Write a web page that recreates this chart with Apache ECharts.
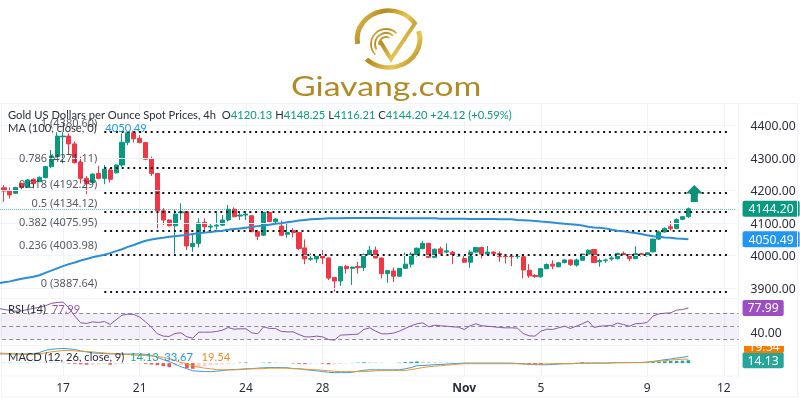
<!DOCTYPE html>
<html>
<head>
<meta charset="utf-8">
<style>html,body{margin:0;padding:0;background:#fff}#c{width:800px;height:400px}</style>
<script src="https://cdn.jsdelivr.net/npm/echarts@6/dist/echarts.min.js"></script>
</head>
<body>
<div id="c"></div>
<script>
const tickLabels = ['17','21','24','28','Nov','5','9','12'];
const tickSlots = [11,24,42,55,79,92,110,123];
const slotCount = 126;

const opens = [null,
4209,4200,4192,4222,4210,4235,4228,4240,4274,4305,
4366,4368,4344,4288,4238,4225,4253,4238,4264,4255,
4279,4349,4378,4361,4348,4299,4253,4138,4110,4092,
4132,4135,4028,4038,4103,4088,4091,4094,4110,4143,
4122,4125,4123,4074,4063,4133,4105,4091,4066,4077,
4071,4024,3989,3990,4000,3993,3933,3922,3967,3961,
3967,3964,4003,4017,3993,3945,3953,3937,3961,3974,
4002,4022,4038,3995,4021,4011,4011,3999,3991,3980,
4011,4025,4005,4011,4007,4000,3999,3997,3997,3955,
3939,3935,3960,3974,3966,3979,3987,3971,3986,4005,
4019,3981,3985,3990,3991,4007,4003,3991,4006,4000,
4012,4051,4073,4089,4084,4112,4120.13];
const closes = [null,
4199,4187,4210,4210,4233,4222,4241,4274,4307,4368,
4368,4344,4286,4238,4222,4251,4238,4266,4235,4279,
4349,4378,4360,4348,4297,4253,4138,4110,4092,4128,
4135,4030,4038,4101,4089,4091,4094,4110,4143,4120,
4125,4128,4074,4060,4133,4105,4113,4063,4071,4071,
4022,3990,3992,4000,3993,3931,3922,3966,3960,3965,
3963,4003,4017,3993,3945,3954,3937,3961,3974,4005,
4023,4038,3995,4020,4007,4015,4001,4002,3980,4011,
4025,4005,4011,4006,3997,3997,3997,4000,3956,3938,
3936,3960,3973,3968,3978,3987,3973,3987,4005,4017,
3979,3985,3987,3993,4007,4003,3991,4006,4003,4009,
4051,4073,4084,4083,4111,4120,4144.20];
const lows = [null,
4166,4176,4190,4205,4208,4207,4226,4238,4269,4302,
4284,4310,4284,4222,4189,4222,4235,4220,4225,4253,
4274,4340,4348,4346,4294,4245,4084,4094,4090,4007,
4110,4017,4012,4025,4074,4069,4081,4091,4105,4118,
4110,4110,4072,4048,4060,4103,4099,4061,4055,4056,
4017,3974,3984,3978,3974,3925,3889,3907,3945,3910,
3945,3953,4002,3992,3930,3917,3919,3935,3960,3964,
3997,4019,3993,3993,4004,4007,3974,3997,3978,3963,
4009,3992,4002,4001,3981,3976,3968,3990,3930,3932,
3932,3932,3958,3958,3964,3976,3968,3966,3984,4004,
3978,3966,3978,3984,3988,3999,3983,3989,3997,3997,
4010,4048,4071,4077,4082,4109,4116.21];
const highs = [null,
4217,4210,4212,4225,4236,4238,4244,4276,4325,4380,
4380,4376,4351,4305,4245,4253,4276,4279,4269,4281,
4376,4381,4380,4371,4350,4305,4255,4146,4112,4142,
4161,4136,4069,4115,4115,4099,4137,4125,4156,4149,
4135,4137,4125,4079,4135,4135,4115,4108,4097,4084,
4072,4050,4007,4002,4017,3994,3934,3968,3972,3966,
3981,4007,4030,4028,3994,3956,3964,3962,4010,4011,
4025,4046,4039,4022,4028,4038,4015,4007,3999,4017,
4026,4028,4030,4014,4014,4001,4000,4002,3998,3974,
3943,3962,3976,3986,3981,3989,3989,3991,4007,4019,
4020,3991,3991,4002,4009,4013,4005,4029,4009,4011,
4053,4077,4087,4107,4115,4122,4148.25];
const ma100 = [
3915,3918,3921,3925,3929,3932,3935,3940,3947,3954,
3961,3968,3974,3979,3985,3990,3995,3999,4003,4008,
4014,4020,4027,4033,4040,4046,4050,4053,4055,4058,
4060,4062,4064,4067,4069,4071,4073,4075,4077,4080,
4082,4084,4086,4088,4091,4093,4095,4098,4100,4103,
4105,4108,4110,4112,4113,4114,4115,4115,4115,4116,
4116,4116,4116,4116,4116,4116,4116,4115,4115,4115,
4115,4115,4115,4115,4115,4114,4114,4114,4114,4114,
4113,4113,4113,4113,4113,4112,4112,4112,4110,4109,
4108,4107,4105,4104,4102,4100,4098,4097,4095,4093,
4089,4087,4086,4084,4080,4077,4075,4072,4070,4067,
4063,4060,4058,4056,4055,4053,4052,4050.49];
const rsi14 = [
77.3,75.7,74.2,73.1,73.7,75.7,77.3,79.3,81.4,85,
86.5,87,78.3,65.5,55.2,54.2,56.7,55.7,57.2,52.6,
59.8,67,68.5,68,63.9,56.7,48.5,38.3,34.7,34.2,
38.8,39.8,33.6,31.6,40.8,40.8,40.8,41.9,43.9,48,
45.4,46,46,39.8,38.3,49,46.5,46.5,41.9,41.3,
41.3,37.2,33.6,33.6,34.7,33.6,29.5,28.5,36.2,36.7,
37.2,37.8,45,47.5,42.4,38.3,38.3,39.3,42.4,46.5,
50.6,53.7,55.2,49,51.6,50.6,50,49,48.5,45,
50.6,53.7,50.6,50,49,48,47.5,47.5,47,38.8,
35.2,34.7,42.4,45.4,45,47.5,50,46.5,50,53.7,
57.8,48,50,50.6,51.1,54.7,52.6,50,53.7,54.2,
55.7,65.5,69,70,70.6,74.7,75.7,77.99];
const macdLine = [
45,45,45,45,45,45,45,52,62,68,
70,72,70,67,60,55,50,48,47,45,
45,45,45,45,45,43,38,28,17,7,
-5,-18,-28,-38,-40,-42,-42,-40,-37,-33,
-32,-30,-28,-27,-25,-23,-22,-22,-22,-23,
-27,-28,-32,-35,-38,-42,-45,-47,-47,-47,
-45,-40,-35,-33,-33,-33,-33,-33,-33,-28,
-22,-13,-12,-10,-8,-7,-5,-3,-2,0,
0,0,0,0,0,0,0,0,-2,-3,
-7,-8,-8,-8,-7,-5,-3,-3,-2,0,
0,0,0,0,2,2,2,3,3,3,
5,8,12,17,20,25,28,33.67];
const signalLine = [
50,48,47,45,43,42,42,45,50,55,
58,62,62,60,58,57,55,52,50,47,
45,43,42,40,38,37,35,33,28,22,
13,3,-3,-13,-20,-25,-28,-32,-33,-33,
-33,-32,-30,-28,-28,-27,-25,-25,-25,-25,
-27,-28,-30,-32,-33,-35,-38,-40,-42,-42,
-42,-42,-42,-40,-38,-37,-37,-37,-35,-37,
-32,-27,-22,-18,-15,-13,-10,-8,-5,-3,
-3,-3,-3,-3,-3,-3,-3,-3,-3,-5,
-5,-5,-5,-5,-3,-3,-3,-3,-2,-2,
-2,0,0,0,0,2,2,2,2,3,
3,7,10,12,15,17,19,19.54];
const macdHist = [
3,3,3,3,3,3,3,3,3,3,
3,3,-3,-4,-6,-8,-8,-8,-4,-8,
-5,-4,-3,-3,-3,-4,-7,-10,-15,-20,
-14,-10,-25,-28,-20,-15,-12,-8,-6,-4,
-2,2,3,1,1,2,3,3,2,1,
-2,-4,-5,-4,-2,-3,-6,-6,-4,-2,
1,2,4,4,3,2,1,1,2,5,
6,8,7,6,5,4,3,3,2,2,
1,1,1,1,1,1,1,-1,-2,-4,
-6,-7,-8,-6,-5,-4,-3,-2,2,4,
3,2,1,1,1,1,1,1,1,1,
3,5,7,9,10,11,12,14.13];
const fibRatios = ['1','0.786','0.618','0.5','0.382','0.236','0'];
const fibLevels = [4380.60,4271.11,4192.29,4134.12,4075.95,4003.98,3887.64];
const priceTicks = [3900,4000,4100,4200,4300,4400];
const lastPrice = 4144.20, lastMA = 4050.49, lastRSI = 77.99, lastMACD = 33.67, lastSignal = 19.54, lastHist = 14.13;

const FONT = 'Noto Sans', LEG = 'Lato';
const INK = '#2a2e39';
const UP = '#089981', DOWN = '#f23645', FAINT = '#f0f3fa';
const GOLD = {type:'linear',x:0,y:0,x2:1,y2:1,colorStops:[
  {offset:0,color:'#f0d66f'},{offset:.35,color:'#b58a1e'},{offset:.65,color:'#e8c653'},{offset:1,color:'#9a7312'}]};

const categories = Array.from({length:slotCount},(_,i)=>{const k=tickSlots.indexOf(i);return k<0?'':tickLabels[k];});
const candles = opens.map((o,i)=>o===null?['-','-','-','-']:[o,closes[i],lows[i],highs[i]]);
const histData = macdHist.map((v,i)=>{
  const prev = i?macdHist[i-1]:v;
  const color = v<0?(v<prev?'#ef5350':'#ffcdd2'):(v>prev?'#26a69a':'#b2dfdb');
  return {value:v,itemStyle:{color}};
});
const isTick = (i,v)=>v!=='';

const gridBase = {left:-4.85,width:743.4,outerBoundsMode:'none',containLabel:false,show:true,borderColor:FAINT,borderWidth:1,backgroundColor:'transparent'};
function xAx(gridIndex,showLabel){
  return {type:'category',gridIndex,data:categories,boundaryGap:true,
    axisLine:{show:false},axisTick:{show:false},
    splitLine:{show:true,alignWithLabel:true,interval:isTick,lineStyle:{color:FAINT,width:1}},
    axisLabel:{show:showLabel,interval:isTick,margin:7,color:INK,fontFamily:FONT,fontSize:12,
      formatter:v=>v==='Nov'?'{b|Nov}':v,rich:{b:{fontWeight:'bold',color:INK,fontFamily:FONT,fontSize:12}}}};
}
const tag = (bg,pad)=>({backgroundColor:bg,color:'#fff',padding:[3,pad,1,pad],borderRadius:2,fontFamily:FONT,fontSize:12.2});
function yAx(gridIndex,min,max,values,fmt){
  return {type:'value',gridIndex,position:'right',min,max,scale:true,
    axisLine:{show:false},axisTick:{show:false},splitLine:{show:false},
    axisLabel:{customValues:values,margin:4,align:'left',fontFamily:FONT,fontSize:12.2,color:INK,formatter:fmt,
      rich:{n:{color:INK,fontFamily:FONT,fontSize:12.2,padding:[2,0,0,8]},
            g:tag(UP,6),b:tag('#2196f3',6),p:tag('#9c4fc4',5),t:tag('#26a69a',5)}}};
}
const fibLines = fibLevels.map(v=>[
  {xAxis:18,yAxis:v,lineStyle:{color:'#111',type:[2,3.8],width:2,cap:'butt'}},
  {xAxis:124,yAxis:v}]);
const hundredLines = priceTicks.map(v=>[
  {xAxis:0,yAxis:v,lineStyle:{color:FAINT,type:'solid',width:1}},{xAxis:125,yAxis:v}]);
const lastLine = [[{xAxis:0,yAxis:lastPrice,lineStyle:{color:UP,type:'dotted',width:1,opacity:.7}},{xAxis:125,yAxis:lastPrice}]];

function legend(text,top,rich){
  return {text,left:8,top,padding:0,itemGap:0,z:20,textStyle:{fontFamily:LEG,fontSize:11.2,fontWeight:'normal',color:INK,rich}};
}
const leg = c=>({color:c,fontFamily:LEG,fontSize:11.2});
const option = {
  animation:false,backgroundColor:'#fff',
  title:[
    legend('Gold US Dollars per Ounce Spot Prices, 4h  O{v|4120.13} H{v|4148.25} L{v|4116.21} C{v|4144.20} {v|+24.12} {v|(+0.59%)}',110,{v:leg(UP)}),
    legend('MA (100, close, 0)   {m|4050.49}',123,{m:leg('#2196f3')}),
    legend('RSI (14)  {r|77.99}',304,{r:leg('#9c4fc4')}),
    legend('MACD (12, 26, close, 9)  {a|14.13}  {b|33.67}   {c|19.54}',352,{
      a:leg('#26a69a'),b:leg('#2196f3'),c:leg('#f08a24')})
  ],
  grid:[
    Object.assign({top:103.5,height:195},gridBase),
    Object.assign({top:298.5,height:47},gridBase),
    Object.assign({top:345.5,height:30.5},gridBase)
  ],
  xAxis:[xAx(0,false),xAx(1,false),xAx(2,true)],
  yAxis:[
    yAx(0,3868.3,4468.3,priceTicks.concat([lastPrice,lastMA]),
      v=>v===lastPrice?'{g|4144.20}':v===lastMA?'{b|4050.49}':'{n|'+v.toFixed(2)+'}'),
    yAx(1,20.3,92.6,[lastRSI,40],v=>v===lastRSI?'{p|77.99}':'{n|40.00}'),
    yAx(2,-63.5,86.5,[lastHist],()=>'{t|14.13}')
  ],
  series:[
    {type:'candlestick',name:'XAUUSD',xAxisIndex:0,yAxisIndex:0,data:candles,barWidth:4.6,z:4,
      itemStyle:{color:UP,color0:DOWN,borderColor:UP,borderColor0:DOWN,borderWidth:1},
      markLine:{silent:true,symbol:'none',animation:false,label:{show:false},z:5,
        data:hundredLines.concat(fibLines,lastLine)},
      markPoint:{silent:true,animation:false,z:8,
        symbol:'path://M8 0 L16 8.5 L11.3 8.5 L11.3 17 L4.7 17 L4.7 8.5 L0 8.5 Z',symbolSize:[17,17],
        itemStyle:{color:'#0b8f78'},label:{show:false},
        data:[{coord:[118,4191]}]}},
    {type:'line',name:'MA 100',xAxisIndex:0,yAxisIndex:0,data:ma100,showSymbol:false,symbol:'none',z:6,
      lineStyle:{color:'#2a8fd6',width:2}},
    {type:'scatter',name:'Fib labels',xAxisIndex:0,yAxisIndex:0,symbolSize:0.01,z:7,silent:true,
      data:fibLevels.map((v,i)=>({value:[18,v],name:fibRatios[i]+' ('+v.toFixed(2)+')'})),
      label:{show:true,position:'left',distance:0,offset:[-7,-8.5],formatter:p=>p.name,color:INK,fontFamily:FONT,fontSize:11}},
    {type:'line',name:'RSI',xAxisIndex:1,yAxisIndex:1,data:rsi14,showSymbol:false,symbol:'none',z:6,
      lineStyle:{color:'#8a58a8',width:1},
      markArea:{silent:true,itemStyle:{color:'rgba(126,87,194,0.09)'},data:[[{yAxis:70},{yAxis:30}]]},
      markLine:{silent:true,symbol:'none',animation:false,label:{show:false},
        lineStyle:{color:'#8b8d96',type:[4,3],width:1},data:[{yAxis:70},{yAxis:50},{yAxis:30}]}},
    {type:'bar',name:'Histogram',xAxisIndex:2,yAxisIndex:2,data:histData,barWidth:3.6,z:3},
    {type:'line',name:'MACD',xAxisIndex:2,yAxisIndex:2,data:macdLine,showSymbol:false,symbol:'none',z:6,lineStyle:{color:'#3c9bd8',width:1}},
    {type:'line',name:'Signal',xAxisIndex:2,yAxisIndex:2,data:signalLine,showSymbol:false,symbol:'none',z:7,lineStyle:{color:'#e8952f',width:1}}
  ],
  graphic:[
    {type:'rect',silent:true,z:1,shape:{x:1.5,y:103.5,width:796,height:293.5},style:{fill:null,stroke:FAINT,lineWidth:1}},
    {type:'rect',silent:true,z:50,shape:{x:744,y:346,width:40,height:7,r:[0,0,2,2]},style:{fill:'#f57c00'}},
    {type:'text',silent:true,z:51,x:764,y:348,style:{text:'19.54',fill:'#fff',font:'12.2px "Noto Sans"',textAlign:'center',textVerticalAlign:'middle'}},
    {type:'rect',silent:true,z:52,shape:{x:744,y:340,width:40,height:6},style:{fill:'#fff'}},
    // logo
    {type:'arc',silent:true,z:60,x:388.5,y:39,scaleX:1.1,shape:{cx:0,cy:0,r:28.5,startAngle:170*Math.PI/180,endAngle:328*Math.PI/180,clockwise:true},style:{fill:null,stroke:GOLD,lineWidth:4.5}},
    {type:'arc',silent:true,z:60,x:388.5,y:39,scaleX:1.1,shape:{cx:0,cy:0,r:28.5,startAngle:-16*Math.PI/180,endAngle:135*Math.PI/180,clockwise:true},style:{fill:null,stroke:GOLD,lineWidth:4.5}},
    {type:'polyline',silent:true,z:61,shape:{points:[[380,41],[391,59],[416,22]]},style:{fill:null,stroke:GOLD,lineWidth:4,lineJoin:'miter'}},
    {type:'arc',silent:true,z:60,shape:{cx:386,cy:44,r:7,startAngle:170*Math.PI/180,endAngle:300*Math.PI/180,clockwise:true},style:{fill:null,stroke:GOLD,lineWidth:1.8}},
    {type:'arc',silent:true,z:60,shape:{cx:386,cy:44,r:11,startAngle:150*Math.PI/180,endAngle:310*Math.PI/180,clockwise:true},style:{fill:null,stroke:GOLD,lineWidth:1.8}},
    {type:'arc',silent:true,z:60,shape:{cx:386,cy:44,r:15,startAngle:135*Math.PI/180,endAngle:315*Math.PI/180,clockwise:true},style:{fill:null,stroke:GOLD,lineWidth:1.8}},
    {type:'text',silent:true,z:60,x:291,y:101,scaleX:1.3,style:{text:'Giavang.com',fill:'#b08a24',font:'400 26px Lato',textAlign:'left',textVerticalAlign:'bottom'}}
  ]
};
echarts.init(document.getElementById('c'),null,{renderer:'canvas'}).setOption(option);
</script>
</body>
</html>
